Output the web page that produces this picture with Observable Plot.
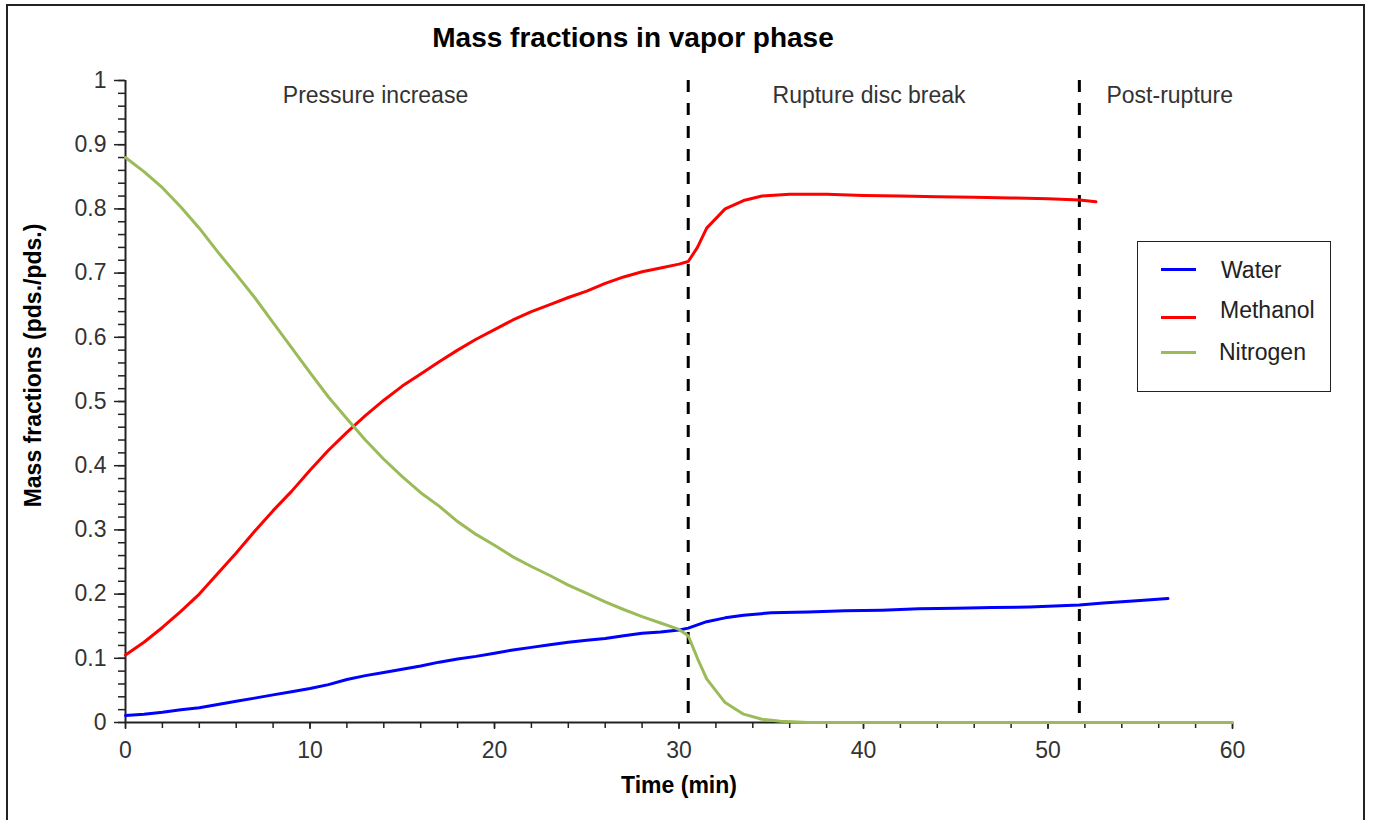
<!DOCTYPE html>
<html>
<head>
<meta charset="utf-8">
<script src="https://cdn.jsdelivr.net/npm/d3@7"></script>
<script src="https://cdn.jsdelivr.net/npm/@observablehq/plot@0.6"></script>
<style>
  body { margin: 0; background: #fff; font-family: "Liberation Sans", Arial, sans-serif; }
  #wrap { position: relative; width: 1375px; height: 820px; overflow: hidden; background: #fff; }
  #frame { position: absolute; left: 6px; top: 4px; width: 1359px; height: 840px; border: 2px solid #222; box-sizing: border-box; }
  #chart { position: absolute; left: 0; top: 0; }
  #legend { position: absolute; left: 1137px; top: 241px; width: 194px; height: 151px; border: 1.5px solid #222; box-sizing: border-box; background: #fff; }
  .lg-line { position: absolute; left: 23px; width: 35px; height: 3px; }
  .lg-text { position: absolute; font-size: 23px; color: #222; line-height: 1; }
</style>
</head>
<body>
<div id="wrap">
  <div id="frame"></div>
  <div id="chart"></div>
  <div id="legend"></div>
</div>
<script>
// ---- data ----
const seriesNames = ["Water", "Methanol", "Nitrogen"];
const seriesColors = ["#0000ff", "#ff0000", "#9bbb59"];

const waterT = [0,1,2,3,4,5,6,7,8,9,10,11,12,13,14,15,16,17,18,19,20,21,22,23,24,25,26,27,28,29,30,30.5,31.5,32.5,33.5,35,37,39,41,43,45,47,49,51.7,53,55,56.5];
const waterV = [0.011,0.013,0.016,0.020,0.023,0.028,0.033,0.038,0.043,0.048,0.053,0.059,0.067,0.073,0.078,0.083,0.088,0.094,0.099,0.103,0.108,0.113,0.117,0.121,0.125,0.128,0.131,0.135,0.139,0.141,0.144,0.147,0.157,0.163,0.167,0.171,0.172,0.174,0.175,0.177,0.178,0.179,0.180,0.183,0.186,0.190,0.193];

const methanolT = [0,1,2,3,4,5,6,7,8,9,10,11,12,13,14,15,16,17,18,19,20,21,22,23,24,25,26,27,28,29,30,30.5,31,31.5,32.5,33.5,34.5,36,38,40,42,44,46,48,50,51.7,52.6];
const methanolV = [0.105,0.125,0.148,0.173,0.200,0.232,0.264,0.298,0.330,0.360,0.393,0.424,0.452,0.478,0.502,0.524,0.543,0.562,0.580,0.597,0.612,0.627,0.640,0.651,0.662,0.672,0.684,0.694,0.702,0.708,0.714,0.718,0.740,0.770,0.800,0.813,0.820,0.823,0.823,0.821,0.820,0.819,0.818,0.817,0.816,0.814,0.811];

const nitrogenT = [0,1,2,3,4,5,6,7,8,9,10,11,12,13,14,15,16,17,18,19,20,21,22,23,24,25,26,27,28,29,30,30.5,31,31.5,32.5,33.5,34.5,35.5,37,40,45,50,55,60];
const nitrogenV = [0.880,0.858,0.833,0.803,0.770,0.733,0.698,0.662,0.623,0.584,0.545,0.507,0.473,0.440,0.410,0.383,0.358,0.337,0.313,0.293,0.276,0.258,0.243,0.229,0.214,0.201,0.188,0.176,0.165,0.155,0.145,0.135,0.100,0.068,0.031,0.013,0.005,0.002,0,0,0,0,0,0];

const breakTimes = [30.5, 51.7];
const regionLabels = ["Pressure increase", "Rupture disc break", "Post-rupture"];
const regionCenters = [13.55, 40.3, 56.6];

const xMajorTicks = [0, 10, 20, 30, 40, 50, 60];
const xMinorTicks = d3.range(0, 61, 2);
const yMajorTicks = [0, 0.1, 0.2, 0.3, 0.4, 0.5, 0.6, 0.7, 0.8, 0.9, 1];
const yMinorTicks = d3.range(0, 51).map(i => i / 50);

const titleText = "Mass fractions in vapor phase";
const xLabel = "Time (min)";
const yLabel = "Mass fractions (pds./pds.)";

// ---- build rows ----
const rows = [];
[[waterT, waterV], [methanolT, methanolV], [nitrogenT, nitrogenV]].forEach(([ts, vs], i) => {
  ts.forEach((t, j) => rows.push({series: seriesNames[i], t, v: vs[j]}));
});

const ink = "#222";
const chart = Plot.plot({
  width: 1375,
  height: 820,
  marginLeft: 125,
  marginRight: 143,
  marginTop: 80,
  marginBottom: 98,
  style: {fontFamily: "'Liberation Sans', Arial, sans-serif", fontSize: "23px", color: ink, background: "transparent", overflow: "visible"},
  x: {domain: [0, 60]},
  y: {domain: [0, 1]},
  color: {domain: seriesNames, range: seriesColors},
  marks: [
    Plot.axisY(yMinorTicks, {tickSize: 7, text: null, stroke: ink, strokeWidth: 1.5, label: null}),
    Plot.axisY(yMajorTicks, {tickSize: 11, tickPadding: 8, stroke: ink, strokeWidth: 1.5, label: null, tickFormat: d => d3.format("~g")(d), fill: "#333"}),
    Plot.axisX(xMinorTicks, {tickSize: 6, text: null, stroke: ink, strokeWidth: 1.5, label: null}),
    Plot.axisX(xMajorTicks, {tickSize: 7, tickPadding: 12, stroke: ink, strokeWidth: 1.5, label: null, fill: "#333"}),
    Plot.ruleX([0], {stroke: ink, strokeWidth: 2}),
    Plot.ruleY([0], {stroke: ink, strokeWidth: 2}),
    Plot.ruleX(breakTimes, {stroke: "#000", strokeWidth: 3, strokeDasharray: "12,11"}),
    Plot.line(rows, {x: "t", y: "v", z: "series", stroke: "series", strokeWidth: 3, strokeLinejoin: "round"}),
    Plot.text(regionLabels, {x: (d, i) => regionCenters[i], text: d => d, frameAnchor: "top", lineAnchor: "middle", dy: 15, fill: "#333", fontSize: 23}),
    Plot.text([titleText], {frameAnchor: "top", lineAnchor: "middle", dx: -46, dy: -42, fontWeight: "bold", fontSize: 28, fill: "#000"}),
    Plot.text([xLabel], {frameAnchor: "bottom", lineAnchor: "middle", dy: 63, fontWeight: "bold", fontSize: 23, fill: "#000"}),
    Plot.text([yLabel], {frameAnchor: "left", textAnchor: "middle", lineAnchor: "middle", dx: -92, dy: -36, rotate: -90, fontWeight: "bold", fontSize: 23, fill: "#000"})
  ]
});
document.getElementById("chart").appendChild(chart);

// ---- legend ----
const legend = document.getElementById("legend");
const lineTops = [26, 74, 109];
const textTops = [17, 57, 99];
const textLefts = [83, 82, 81];
seriesNames.forEach((name, i) => {
  const ln = document.createElement("div");
  ln.className = "lg-line";
  ln.style.top = lineTops[i] + "px";
  ln.style.background = seriesColors[i];
  legend.appendChild(ln);
  const tx = document.createElement("div");
  tx.className = "lg-text";
  tx.style.top = textTops[i] + "px";
  tx.style.left = textLefts[i] + "px";
  tx.textContent = name;
  legend.appendChild(tx);
});
</script>
</body>
</html>
